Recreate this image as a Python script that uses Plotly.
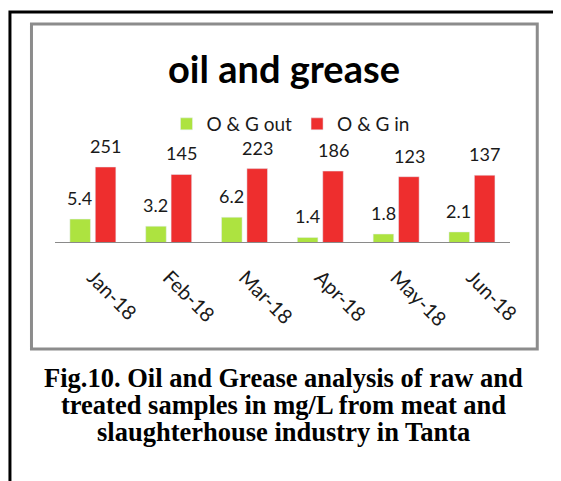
import numpy as np
import plotly.graph_objects as go

months = ["Jan-18", "Feb-18", "Mar-18", "Apr-18", "May-18", "Jun-18"]
og_out = [5.4, 3.2, 6.2, 1.4, 1.8, 2.1]
og_in = [251, 145, 223, 186, 123, 137]

# page has an 8px body margin, so the figure is placed at (8, 8)
OFF = 8
W, H = 561 - OFF, 481 - OFF
GREEN = "#ADE340"
RED = "#EE2E2E"
LABEL_FONT = dict(family="Lato", size=18, color="#1a1a1a")

def px(xp):
    return (xp - OFF) / W

def py(yp):
    return 1 - (yp - OFF) / H

fig = go.Figure()
fig.add_trace(go.Bar(name="O & G out", x=months, y=og_out, marker_color=GREEN))
fig.add_trace(go.Bar(name="O & G in", x=months, y=og_in, marker_color=RED))

# data labels
for m, v in zip(months, og_out):
    fig.add_annotation(x=m, y=np.log10(v), text=f"{v:g}", showarrow=False,
                       xshift=-13, yshift=21, yanchor="middle", font=LABEL_FONT)
for m, v in zip(months, og_in):
    fig.add_annotation(x=m, y=np.log10(v), text=f"{v:g}", showarrow=False,
                       xshift=13, yshift=21, yanchor="middle", font=LABEL_FONT)

# title
fig.add_annotation(xref="paper", yref="paper", x=px(290.5), y=py(68),
                   text="<b>oil and grease</b>", showarrow=False,
                   xanchor="center", yanchor="middle",
                   font=dict(family="Lato", size=38, color="black"))

# caption
caption = ["Fig.10. Oil and Grease analysis of raw and",
           "treated samples in mg/L from meat and",
           "slaughterhouse industry in Tanta"]
for i, line in enumerate(caption):
    fig.add_annotation(xref="paper", yref="paper", x=px(290), y=py(378 + 27 * i),
                       text=f"<b>{line}</b>", showarrow=False,
                       xanchor="center", yanchor="middle", borderpad=0,
                       font=dict(family="Liberation Serif", size=26.5, color="black"))

# frames
fig.add_shape(type="path", xref="paper", yref="paper",
              path=f"M {px(10)},{py(490)} L {px(10)},{py(12)} L {px(570)},{py(12)}",
              line=dict(color="black", width=3))
fig.add_shape(type="rect", xref="paper", yref="paper",
              x0=px(32), x1=px(549), y0=py(24), y1=py(349),
              line=dict(color="#8c8c8c", width=3))

y_top_px = 140
decade_px = 31.25
fig.update_layout(
    width=W, height=H,
    margin=dict(l=0, r=0, t=0, b=0),
    paper_bgcolor="white", plot_bgcolor="white",
    barmode="group", bargap=0.33, bargroupgap=0.19,
    showlegend=True,
    legend=dict(orientation="h", x=px(170), y=py(124), xanchor="left", yanchor="middle",
                font=dict(family="Lato", size=19, color="#1a1a1a"),
                bgcolor="rgba(0,0,0,0)"),
    xaxis=dict(domain=[px(56), px(521)], showline=True, linecolor="#8a8a8a", linewidth=1,
               showgrid=False, ticks="", tickangle=45, ticklabelstandoff=15,
               tickfont=dict(family="Lato", size=20, color="#1a1a1a")),
    yaxis=dict(type="log", domain=[py(242), py(y_top_px)],
               range=[0, (242 - y_top_px) / decade_px], visible=False),
)

fig.write_html("out.html")
